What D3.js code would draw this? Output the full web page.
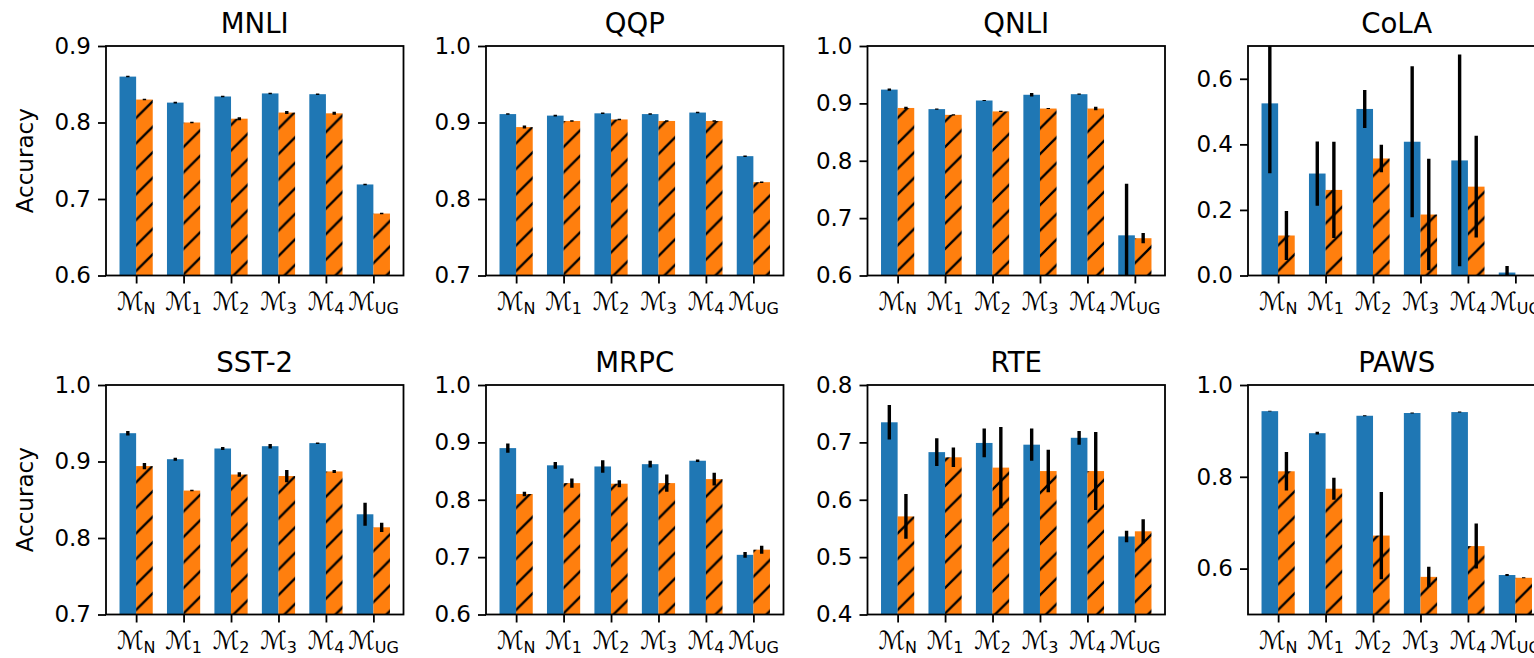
<!DOCTYPE html>
<html><head><meta charset="utf-8">
<script src="https://cdn.jsdelivr.net/npm/d3@7"></script>
<style>
body{margin:0;background:#fff}
svg{display:block}
text{font-family:"DejaVu Sans",sans-serif;fill:#000}
</style>
</head><body>
<svg id="chart" width="1534" height="658"></svg>
<script>
// ---- data ----
const categories = ["N", "1", "2", "3", "4", "UG"];
const datasets = ["MNLI", "QQP", "QNLI", "CoLA", "SST-2", "MRPC", "RTE", "PAWS"];
const yDomains = [[0.6, 0.9], [0.7, 1.0], [0.6, 1.0], [0.0, 0.7], [0.7, 1.0], [0.6, 1.0], [0.4, 0.8], [0.5, 1.0]];
const yTicks = [
  [0.6, 0.7, 0.8, 0.9],
  [0.7, 0.8, 0.9, 1.0],
  [0.6, 0.7, 0.8, 0.9, 1.0],
  [0.0, 0.2, 0.4, 0.6],
  [0.7, 0.8, 0.9, 1.0],
  [0.6, 0.7, 0.8, 0.9, 1.0],
  [0.4, 0.5, 0.6, 0.7, 0.8],
  [0.6, 0.8, 1.0]
];
const blueValues = [
  [0.860, 0.826, 0.834, 0.838, 0.837, 0.719],
  [0.911, 0.909, 0.912, 0.911, 0.913, 0.856],
  [0.924, 0.890, 0.905, 0.915, 0.916, 0.670],
  [0.525, 0.311, 0.508, 0.408, 0.351, 0.009],
  [0.937, 0.903, 0.917, 0.920, 0.924, 0.831],
  [0.890, 0.860, 0.858, 0.862, 0.868, 0.704],
  [0.735, 0.683, 0.699, 0.696, 0.708, 0.536],
  [0.943, 0.895, 0.933, 0.939, 0.941, 0.586]
];
const blueErrors = [
  [0.001, 0.001, 0.001, 0.001, 0.001, 0.001],
  [0.001, 0.001, 0.001, 0.001, 0.001, 0.001],
  [0.002, 0.001, 0.001, 0.003, 0.001, 0.090],
  [0.213, 0.098, 0.058, 0.230, 0.323, 0.020],
  [0.003, 0.002, 0.002, 0.003, 0.001, 0.015],
  [0.008, 0.006, 0.011, 0.006, 0.002, 0.005],
  [0.030, 0.024, 0.025, 0.028, 0.012, 0.010],
  [0.001, 0.003, 0.001, 0.001, 0.001, 0.002]
];
const orangeValues = [
  [0.830, 0.800, 0.805, 0.813, 0.812, 0.681],
  [0.894, 0.902, 0.904, 0.902, 0.902, 0.822],
  [0.892, 0.880, 0.886, 0.891, 0.891, 0.665],
  [0.122, 0.261, 0.357, 0.186, 0.271, 0.000],
  [0.894, 0.862, 0.883, 0.881, 0.887, 0.814],
  [0.810, 0.829, 0.828, 0.829, 0.836, 0.713],
  [0.571, 0.674, 0.656, 0.650, 0.650, 0.545],
  [0.812, 0.774, 0.672, 0.582, 0.649, 0.580]
];
const orangeErrors = [
  [0.001, 0.001, 0.002, 0.002, 0.002, 0.001],
  [0.002, 0.001, 0.001, 0.001, 0.001, 0.001],
  [0.002, 0.001, 0.001, 0.001, 0.003, 0.009],
  [0.075, 0.147, 0.042, 0.170, 0.155, 0.000],
  [0.004, 0.001, 0.003, 0.008, 0.002, 0.006],
  [0.004, 0.008, 0.006, 0.015, 0.011, 0.007],
  [0.039, 0.017, 0.071, 0.037, 0.068, 0.021],
  [0.042, 0.024, 0.095, 0.022, 0.049, 0.001]
];

// ---- layout ----
const colLeft = [106, 486, 867.5, 1248];
const rowTop = [46, 385];
const panelW = 297.5, panelH = 229.5;
const blue = "#1f77b4", orange = "#ff7f0e";
const barW = 0.35;
const tickFont = 23, titleFont = 27.6;

const svg = d3.select("#chart");
const defs = svg.append("defs");
const hs = 25.5;
const pat = defs.append("pattern").attr("id", "hatch")
  .attr("patternUnits", "userSpaceOnUse").attr("width", hs).attr("height", hs);
pat.append("rect").attr("width", hs).attr("height", hs).attr("fill", orange);
pat.append("path")
  .attr("d", `M0,${hs} L${hs},0 M${-hs/2},${hs/2} L${hs/2},${-hs/2} M${hs/2},${hs*1.5} L${hs*1.5},${hs/2}`)
  .attr("stroke", "#000").attr("stroke-width", 2.3);

datasets.forEach((name, k) => {
  const col = k % 4, row = Math.floor(k / 4);
  const left = colLeft[col], top = rowTop[row];
  const g = svg.append("g").attr("transform", `translate(${left},${top})`);
  const x = d3.scaleLinear().domain([-0.635, categories.length - 1 + 0.635]).range([0, panelW]);
  const y = d3.scaleLinear().domain(yDomains[k]).range([panelH, 0]);

  defs.append("clipPath").attr("id", "clip" + k)
    .append("rect").attr("width", panelW).attr("height", panelH);
  const plot = g.append("g").attr("clip-path", `url(#clip${k})`);

  const y0 = yDomains[k][0];
  const series = [
    {vals: blueValues[k], errs: blueErrors[k], off: -barW, fill: blue},
    {vals: orangeValues[k], errs: orangeErrors[k], off: 0, fill: "url(#hatch)"}
  ];
  series.forEach(s => {
    plot.selectAll(null).data(s.vals).enter().append("rect")
      .attr("x", (d, i) => x(i + s.off))
      .attr("width", x(barW) - x(0))
      .attr("y", d => y(Math.max(d, y0)))
      .attr("height", d => Math.max(0, y(y0) - y(Math.max(d, y0))))
      .attr("fill", s.fill);
  });
  series.forEach(s => {
    plot.selectAll(null).data(s.vals).enter().append("line")
      .attr("x1", (d, i) => x(i + s.off + barW / 2))
      .attr("x2", (d, i) => x(i + s.off + barW / 2))
      .attr("y1", (d, i) => y(d - s.errs[i]))
      .attr("y2", (d, i) => y(d + s.errs[i]))
      .attr("stroke", "#000").attr("stroke-width", 3.4)
      .attr("visibility", (d, i) => s.errs[i] > 0 ? "visible" : "hidden");
  });

  // y axis
  const ya = g.append("g").call(d3.axisLeft(y).tickValues(yTicks[k])
    .tickFormat(d3.format(".1f")).tickSize(8).tickPadding(7).tickSizeOuter(0));
  ya.select(".domain").remove();
  ya.selectAll("line").attr("stroke", "#000").attr("stroke-width", 1.8);
  ya.selectAll("text").attr("font-size", tickFont).style("font-family", "DejaVu Sans").attr("fill", "#000");

  // x axis ticks
  const xa = g.append("g").attr("transform", `translate(0,${panelH})`)
    .call(d3.axisBottom(x).tickValues(d3.range(categories.length)).tickFormat("").tickSize(8).tickSizeOuter(0));
  xa.select(".domain").remove();
  xa.selectAll("line").attr("stroke", "#000").attr("stroke-width", 1.8);

  // x labels
  categories.forEach((c, i) => {
    const t = g.append("text").attr("x", x(i)).attr("y", panelH + 34)
      .attr("text-anchor", "middle").attr("font-size", tickFont);
    t.append("tspan").attr("font-size", 25).text("\u2133");
    t.append("tspan").attr("dy", 4).attr("font-size", 16).text(c);
  });

  // frame
  g.append("rect").attr("width", panelW).attr("height", panelH)
    .attr("fill", "none").attr("stroke", "#000").attr("stroke-width", 1.8);

  // title
  g.append("text").attr("x", panelW / 2).attr("y", -13).attr("text-anchor", "middle")
    .attr("font-size", titleFont).text(name);

  if (col === 0) {
    svg.append("text").attr("transform", `translate(33,${top + panelH / 2}) rotate(-90)`)
      .attr("text-anchor", "middle").attr("font-size", tickFont).text("Accuracy");
  }
});
</script>
</body></html>
